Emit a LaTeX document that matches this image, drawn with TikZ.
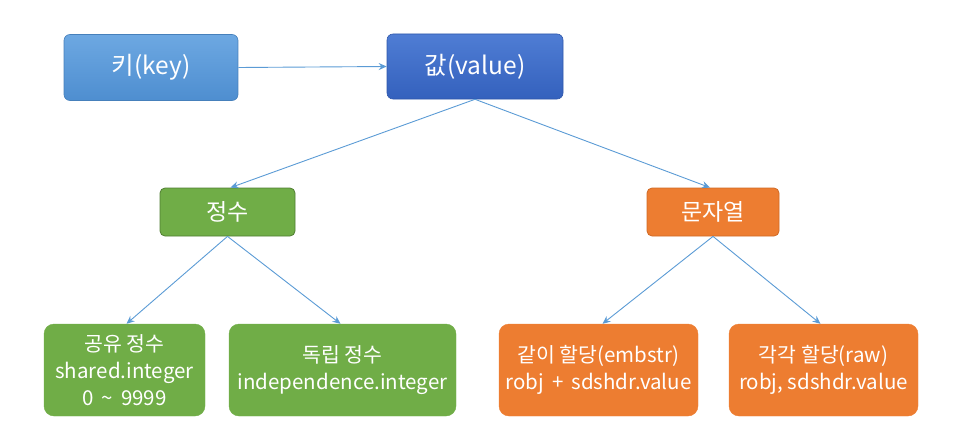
\documentclass[tikz,border=0pt]{standalone}
\usepackage{fontspec}
\setmainfont{Noto Sans CJK KR}
\usetikzlibrary{arrows.meta}
\definecolor{arr}{HTML}{5B9BD5}
\definecolor{keytop}{HTML}{6DA8E2}
\definecolor{keybot}{HTML}{4E8ED0}
\definecolor{valtop}{HTML}{4F7DD4}
\definecolor{valbot}{HTML}{3461BD}
\definecolor{grn}{HTML}{70AD47}
\definecolor{grnd}{HTML}{507E32}
\definecolor{org}{HTML}{ED7D31}
\definecolor{orgd}{HTML}{D06A25}
\tikzset{
  base/.style={rectangle, text=white, align=center, inner sep=0pt},
  keybox/.style={base, rounded corners=6pt, top color=keytop, bottom color=keybot, draw=keybot!90!black, line width=0.6pt, font=\fontsize{24.5}{28}\selectfont},
  valbox/.style={base, rounded corners=6pt, top color=valtop, bottom color=valbot, draw=valbot!90!black, line width=0.6pt, font=\fontsize{24.5}{28}\selectfont},
  midg/.style={base, rounded corners=5pt, fill=grn, draw=grnd, line width=0.8pt, font=\fontsize{23}{26}\selectfont},
  mido/.style={base, rounded corners=5pt, fill=org, draw=orgd, line width=0.8pt, font=\fontsize{23}{26}\selectfont},
  leafg/.style={base, rounded corners=10pt, fill=grn, draw=grn, font=\fontsize{20.5}{27}\selectfont},
  leafo/.style={base, rounded corners=10pt, fill=org, draw=org, font=\fontsize{20.5}{27}\selectfont},
  conn/.style={draw=arr, line width=0.9pt, -{Stealth[length=8pt,width=7pt]}},
}
\begin{document}
\begin{tikzpicture}[x=1pt,y=-1pt]
\useasboundingbox (0,0) rectangle (955,444);
\node[keybox, minimum width=174pt, minimum height=66pt] (key) at (151,67.5) {키(key)};
\node[valbox, minimum width=176pt, minimum height=65pt] (val) at (475,66.5) {값(value)};
\node[midg, minimum width=135pt, minimum height=48pt] (int) at (227.5,212) {정수};
\node[mido, minimum width=132pt, minimum height=48pt] (str) at (713,212) {문자열};
\node[leafg, minimum width=161pt, minimum height=92pt] (shared) at (124.5,370) {공유 정수\\shared.integer\\0 \,\char`~\, 9999};
\node[leafg, minimum width=227pt, minimum height=92pt] (indep) at (342.5,370) {독립 정수\\independence.integer};
\node[leafo, minimum width=199pt, minimum height=92pt] (emb) at (598.5,370) {같이 할당(embstr)\\robj \,+\, sdshdr.value};
\node[leafo, minimum width=189pt, minimum height=92pt] (raw) at (823.5,370) {각각 할당(raw)\\robj, sdshdr.value};
\draw[conn] (key.east) -- (val.west);
\draw[conn] (val.south) -- ([xshift=3pt]int.north);
\draw[conn] (val.south) -- ([xshift=-3pt]str.north);
\draw[conn] (int.south) -- ([xshift=2pt]shared.north);
\draw[conn] (int.south) -- ([xshift=-2pt]indep.north);
\draw[conn] (str.south) -- ([xshift=4pt]emb.north);
\draw[conn] (str.south) -- ([xshift=-3pt]raw.north);
\end{tikzpicture}
\end{document}
